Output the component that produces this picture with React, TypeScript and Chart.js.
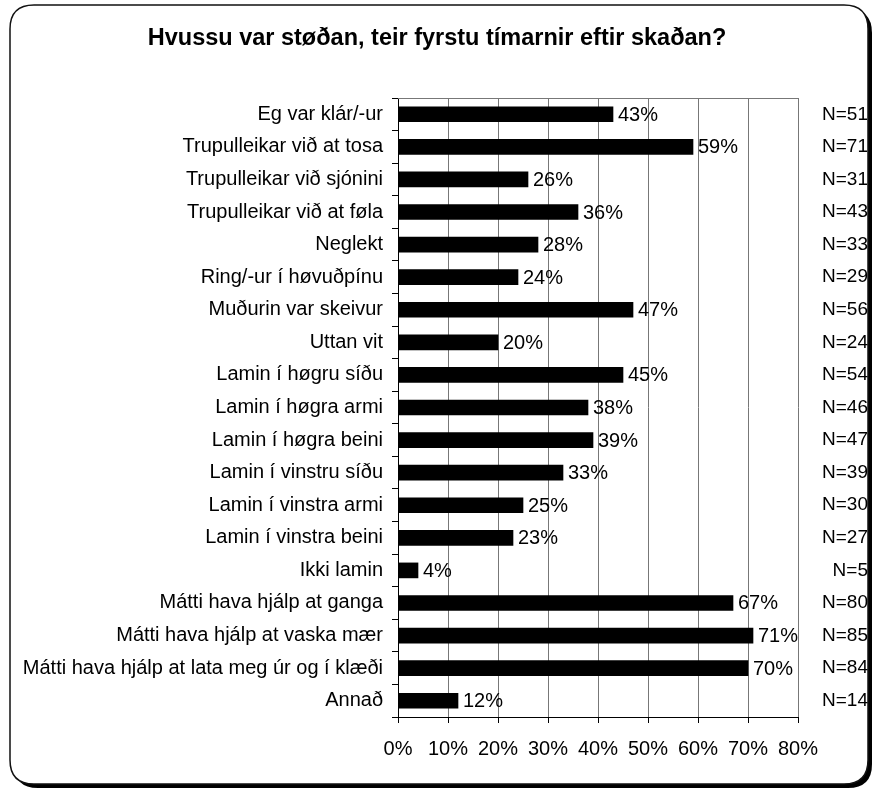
import React, { useEffect, useRef } from "react";
import { Chart, registerables } from "chart.js";

Chart.register(...registerables);

const TITLE = "Hvussu var støðan, teir fyrstu tímarnir eftir skaðan?";

const categories = [
  "Eg var klár/-ur",
  "Trupulleikar við at tosa",
  "Trupulleikar við sjónini",
  "Trupulleikar við at føla",
  "Neglekt",
  "Ring/-ur í høvuðpínu",
  "Muðurin var skeivur",
  "Uttan vit",
  "Lamin í høgru síðu",
  "Lamin í høgra armi",
  "Lamin í høgra beini",
  "Lamin í vinstru síðu",
  "Lamin í vinstra armi",
  "Lamin í vinstra beini",
  "Ikki lamin",
  "Mátti hava hjálp at ganga",
  "Mátti hava hjálp at vaska mær",
  "Mátti hava hjálp at lata meg úr og í klæði",
  "Annað",
];

const percentValues = [43, 59, 26, 36, 28, 24, 47, 20, 45, 38, 39, 33, 25, 23, 4, 67, 71, 70, 12];

const nCounts = [51, 71, 31, 43, 33, 29, 56, 24, 54, 46, 47, 39, 30, 27, 5, 80, 85, 84, 14];

const xTickValues = [0, 10, 20, 30, 40, 50, 60, 70, 80];

const FONT = "'Liberation Sans', Arial, Helvetica, sans-serif";

const W = 872;
const H = 790;

function roundRect(ctx: CanvasRenderingContext2D, x: number, y: number, w: number, h: number, r: number) {
  ctx.beginPath();
  ctx.moveTo(x + r, y);
  ctx.lineTo(x + w - r, y);
  ctx.quadraticCurveTo(x + w, y, x + w, y + r);
  ctx.lineTo(x + w, y + h - r);
  ctx.quadraticCurveTo(x + w, y + h, x + w - r, y + h);
  ctx.lineTo(x + r, y + h);
  ctx.quadraticCurveTo(x, y + h, x, y + h - r);
  ctx.lineTo(x, y + r);
  ctx.quadraticCurveTo(x, y, x + r, y);
  ctx.closePath();
}

const framePlugin = {
  id: "frame",
  beforeDraw(chart: any) {
    const ctx = chart.ctx as CanvasRenderingContext2D;
    ctx.save();
    // shadow
    roundRect(ctx, 14, 9, 858, 779, 24);
    ctx.fillStyle = "#000";
    ctx.fill();
    // panel
    roundRect(ctx, 10, 5, 858, 779, 24);
    ctx.fillStyle = "#fff";
    ctx.fill();
    ctx.lineWidth = 1.5;
    ctx.strokeStyle = "#111";
    ctx.stroke();
    ctx.restore();
  },
  afterDraw(chart: any) {
    const ctx = chart.ctx as CanvasRenderingContext2D;
    const area = chart.chartArea;
    ctx.save();
    // top border of plot area
    ctx.strokeStyle = "#777";
    ctx.lineWidth = 1;
    ctx.beginPath();
    ctx.moveTo(area.left, Math.round(area.top) + 0.5);
    ctx.lineTo(area.right, Math.round(area.top) + 0.5);
    ctx.stroke();
    // title
    ctx.fillStyle = "#000";
    ctx.font = `bold 23.5px ${FONT}`;
    ctx.textAlign = "center";
    ctx.textBaseline = "middle";
    ctx.fillText(TITLE, 437, 39);
    // N labels
    const yScale = chart.scales.y;
    ctx.font = `19px ${FONT}`;
    ctx.textAlign = "right";
    nCounts.forEach((n, i) => {
      ctx.fillText(`N=${n}`, 868, yScale.getPixelForValue(i));
    });
    ctx.restore();
  },
  afterDatasetsDraw(chart: any) {
    const ctx = chart.ctx as CanvasRenderingContext2D;
    const meta = chart.getDatasetMeta(0);
    ctx.save();
    ctx.fillStyle = "#000";
    ctx.font = `20px ${FONT}`;
    ctx.textAlign = "left";
    ctx.textBaseline = "middle";
    meta.data.forEach((bar: any, i: number) => {
      ctx.fillText(`${percentValues[i]}%`, bar.x + 5, bar.y + 1);
    });
    ctx.restore();
  },
};

export default function App() {
  const ref = useRef<HTMLCanvasElement | null>(null);

  useEffect(() => {
    if (!ref.current) return;
    const chart = new Chart(ref.current, {
      type: "bar",
      data: {
        labels: categories,
        datasets: [
          {
            data: percentValues,
            backgroundColor: "#000",
            borderWidth: 0,
            barThickness: 15,
          },
        ],
      },
      options: {
        indexAxis: "y",
        responsive: false,
        animation: false,
        devicePixelRatio: 1,
        layout: { padding: { top: 98, right: 74, left: 0, bottom: 0 } },
        plugins: {
          legend: { display: false },
          tooltip: { enabled: false },
          title: { display: false },
        },
        scales: {
          x: {
            type: "linear",
            min: 0,
            max: 80,
            afterBuildTicks(scale: any) {
              scale.ticks = xTickValues.map((v) => ({ value: v }));
            },
            afterFit(scale: any) {
              scale.height = 73;
            },
            ticks: {
              color: "#000",
              font: { family: FONT, size: 20 },
              padding: 14,
              callback: (v: any) => `${v}%`,
              maxRotation: 0,
            },
            grid: {
              color: "#777",
              tickColor: "#000",
              tickLength: 6,
              lineWidth: 1,
            },
            border: { display: true, color: "#000", width: 1 },
          },
          y: {
            type: "category",
            afterFit(scale: any) {
              scale.width = 398;
            },
            ticks: {
              color: "#000",
              font: { family: FONT, size: 20 },
              padding: 9,
              autoSkip: false,
            },
            grid: {
              drawOnChartArea: false,
              drawTicks: true,
              tickLength: 6,
              color: "#000",
              offset: true,
            },
            border: { display: true, color: "#000", width: 1 },
          },
        },
      },
      plugins: [framePlugin],
    } as any);
    return () => chart.destroy();
  }, []);

  return (
    <div style={{ position: "fixed", left: 0, top: 0, width: W, height: H, background: "#fff" }}>
      <canvas ref={ref} width={W} height={H} style={{ display: "block", width: W, height: H }} />
    </div>
  );
}
